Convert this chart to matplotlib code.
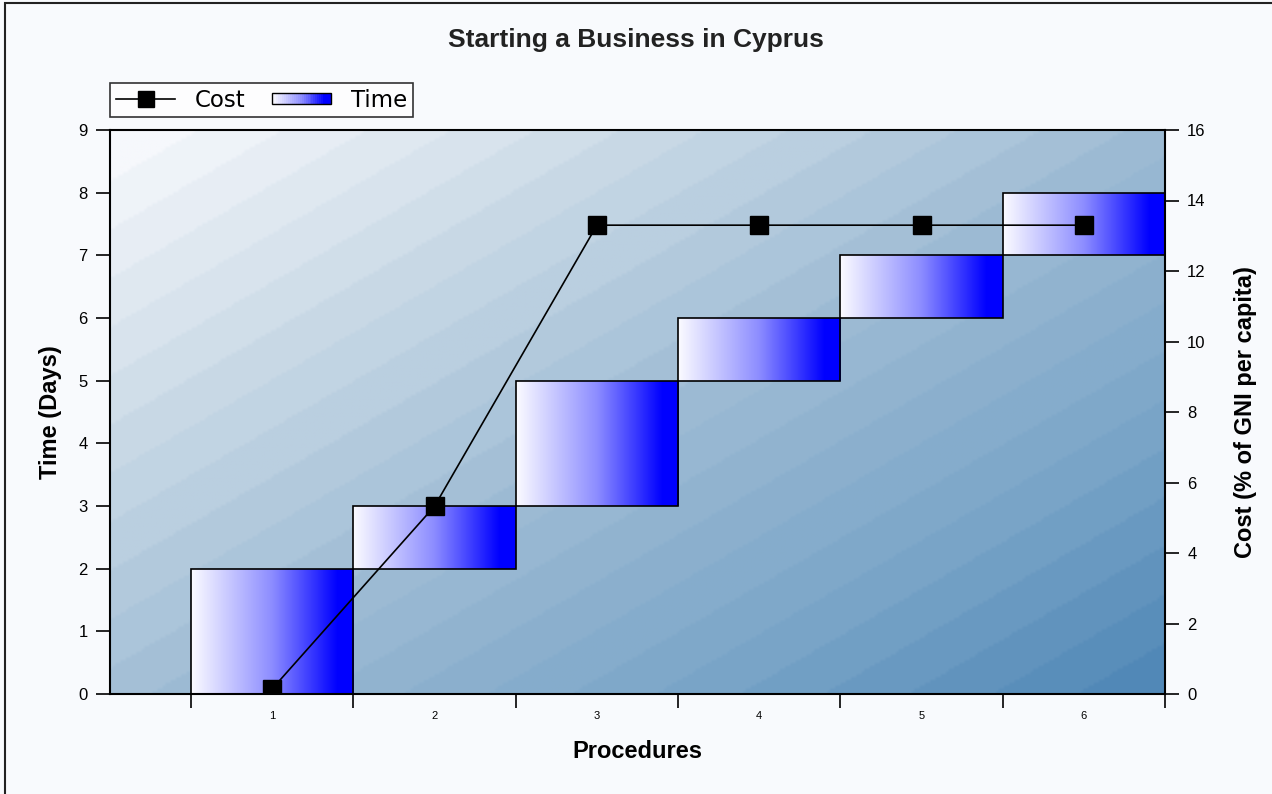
import matplotlib
matplotlib.use("Agg")
import matplotlib.pyplot as plt
import numpy as np
from matplotlib.colors import LinearSegmentedColormap
from matplotlib.lines import Line2D
from matplotlib.patches import Rectangle
from matplotlib.legend_handler import HandlerPatch

plt.rcParams["font.family"] = ["Liberation Sans", "DejaVu Sans"]

procedures = [1, 2, 3, 4, 5, 6]
time_start = [0, 2, 3, 5, 6, 7]
time_end = [2, 3, 5, 6, 7, 8]
cost = [0.15, 5.33, 13.3, 13.3, 13.3, 13.3]

TITLE = "Starting a Business in Cyprus"
BG = "#f8fafd"

bg_cmap = LinearSegmentedColormap.from_list(
    "bg", ["#f6f8fc", "#c9d9e6", "#9dbbd4", "#7aa5c8", "#4a83b4"])
bar_cmap = LinearSegmentedColormap.from_list(
    "bar", [(0.0, "#fbfbff"), (0.5, "#8c8cff"), (0.9, "#0000ff"), (1.0, "#0000ff")])

fig = plt.figure(figsize=(12.72, 7.94), dpi=100, facecolor=BG)
W, H = 1272, 794
ax = fig.add_axes([110 / W, 1 - 694 / H, (1165 - 110) / W, (694 - 130) / H])
ax.set_facecolor("none")

# frame around the whole image
fig.patches.append(Rectangle((5 / W, -0.01), 1.1, 1 - 3 / H + 0.01,
                             transform=fig.transFigure, fill=False,
                             edgecolor="#222222", linewidth=1.5))

# diagonal gradient background in the plot area (light top-left)
nx, ny = 400, 200
gx = np.linspace(0, 1, nx)
gy = np.linspace(0, 1, ny)
X, Y = np.meshgrid(gx, gy)
T = (0.52 * X + 0.48 * Y)
T = np.floor(T * 24) / 24
ax.imshow(T, cmap=bg_cmap, extent=(0, 1, 0, 1), transform=ax.transAxes,
          origin="upper", aspect="auto", zorder=0, interpolation="bilinear")

# floating time bars with horizontal gradient
grad = np.linspace(0, 1, 256).reshape(1, -1)
heights = [e - s for s, e in zip(time_start, time_end)]
bars = ax.bar(procedures, heights, bottom=time_start, width=1.0,
              facecolor="none", edgecolor="black", linewidth=1.2, zorder=3)
for b in bars:
    x0, y0 = b.get_x(), b.get_y()
    img = ax.imshow(grad, cmap=bar_cmap, aspect="auto",
                    extent=(x0, x0 + b.get_width(), y0, y0 + b.get_height()),
                    zorder=2, interpolation="bilinear")
    img.set_clip_path(b)

ax.set_xlim(0, 6.5)
ax.set_ylim(0, 9)
ax.set_yticks(range(0, 10))
ax.set_xticks(procedures)
ax.set_xticklabels([str(p) for p in procedures], fontsize=8)
ax.set_xticks(np.arange(0.5, 7, 1), minor=True)
ax.tick_params(axis="x", which="major", length=0, pad=12)
ax.tick_params(axis="x", which="minor", length=10, width=1.2, direction="out")
ax.tick_params(axis="y", length=10, width=1.2, labelsize=12, pad=6)
for s in ax.spines.values():
    s.set_linewidth(1.5)
ax.spines["right"].set_visible(False)

ax.set_xlabel("Procedures", fontsize=17, fontweight="bold", labelpad=14)
ax.set_ylabel("Time (Days)", fontsize=17, fontweight="bold", labelpad=12)

ax2 = ax.twinx()
ax2.set_ylim(0, 16)
ax2.set_yticks(range(0, 17, 2))
ax2.tick_params(axis="y", length=10, width=1.2, labelsize=12, pad=6)
for s in ax2.spines.values():
    s.set_visible(False)
ax2.spines["right"].set_visible(True)
ax2.spines["right"].set_linewidth(1.5)
ax2.plot(procedures, cost, color="black", linewidth=1.2, marker="s",
         markersize=12.5, markerfacecolor="black", zorder=5)
ax2.set_ylabel("Cost (% of GNI per capita)", fontsize=17, fontweight="bold",
               labelpad=20)

fig.text(0.5, 1 - 40 / H, TITLE, ha="center", va="center", fontsize=19,
         fontweight="bold", color="#222222")


class GradHandler(HandlerPatch):
    def create_artists(self, legend, orig_handle, xdescent, ydescent,
                       width, height, fontsize, trans):
        n = 30
        arts = []
        h = height * 0.65
        y0 = -ydescent + (height - h) / 2
        for i in range(n):
            arts.append(Rectangle((-xdescent + width * i / n, y0), width / n + 0.3, h,
                                  facecolor=bar_cmap(i / (n - 1)),
                                  edgecolor="none", transform=trans))
        arts.append(Rectangle((-xdescent, y0), width, h, facecolor="none",
                              edgecolor="black", linewidth=1.0, transform=trans))
        return arts


cost_handle = Line2D([], [], color="black", marker="s", markersize=12,
                     linewidth=1.2)
time_handle = Rectangle((0, 0), 1, 1, facecolor="#6a6aff", edgecolor="black")
leg = fig.legend([cost_handle, time_handle], ["Cost", "Time"], ncol=2,
                 loc="upper left", bbox_to_anchor=(110 / W, 1 - 83 / H),
                 frameon=True, fancybox=False, edgecolor="black",
                 prop={"family": "DejaVu Sans", "size": 16.5},
                 handlelength=2.6, columnspacing=1.15,
                 borderpad=0.25, handletextpad=0.85, borderaxespad=0,
                 handler_map={Rectangle: GradHandler()})
leg.get_frame().set_linewidth(1.2)
leg.get_frame().set_facecolor("white")

fig.savefig("out.png", dpi=100, facecolor=BG)
